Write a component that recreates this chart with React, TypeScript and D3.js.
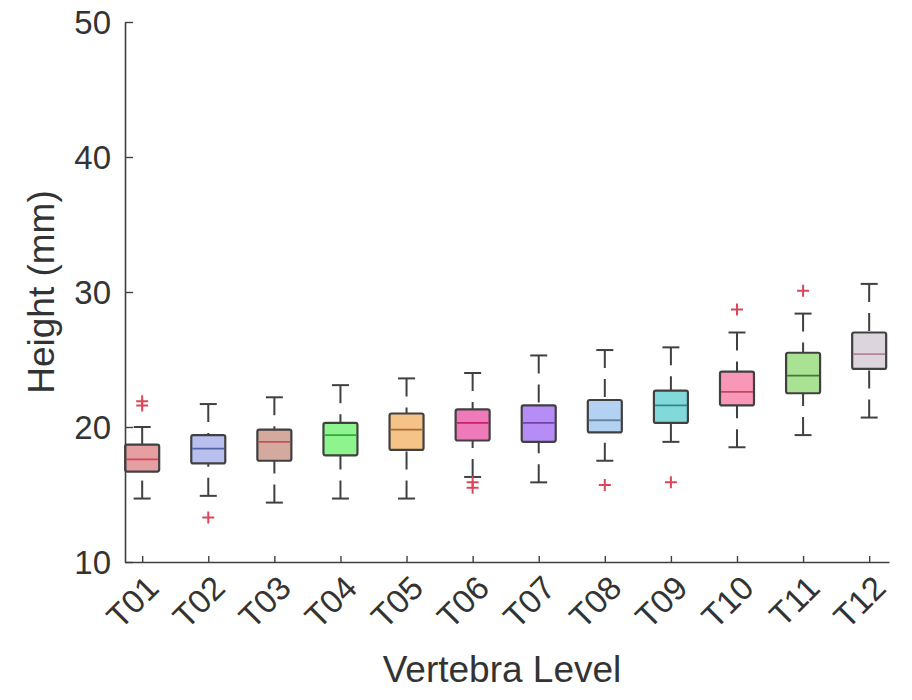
import { useEffect, useRef } from "react";
import * as d3 from "d3";

const WIDTH = 912;
const HEIGHT = 700;

const LEVELS = ["T01", "T02", "T03", "T04", "T05", "T06", "T07", "T08", "T09", "T10", "T11", "T12"];
const Q1 = [16.7, 17.3, 17.5, 17.9, 18.3, 19.0, 18.9, 19.6, 20.3, 21.6, 22.5, 24.3];
const MEDIAN = [17.6, 18.4, 18.9, 19.4, 19.8, 20.3, 20.3, 20.5, 21.6, 22.6, 23.8, 25.4];
const Q3 = [18.7, 19.4, 19.8, 20.3, 21.0, 21.3, 21.6, 22.0, 22.7, 24.1, 25.5, 27.0];
const WHISKER_LOW = [14.7, 14.9, 14.4, 14.7, 14.7, 16.3, 15.9, 17.5, 18.9, 18.5, 19.4, 20.7];
const WHISKER_HIGH = [20.0, 21.7, 22.2, 23.1, 23.6, 24.0, 25.3, 25.7, 25.9, 27.0, 28.4, 30.6];
const OUTLIERS = [[21.6, 21.9], [13.3], [], [], [], [15.9, 15.5], [], [15.7], [15.9], [28.7], [30.1], []];
const Y_TICKS = [10, 20, 30, 40, 50];

const FILLS = ["#e59ea2", "#b9c0f0", "#d4aa9e", "#8ef58e", "#f5c388", "#ee7ab9", "#b68cf6", "#b3d1f1", "#82d9d9", "#f897b7", "#aae293", "#ddd5dd"];
const MEDIAN_COLORS = ["#d0485a", "#5462a6", "#c25454", "#34a834", "#a86a36", "#c42466", "#7444a6", "#6484a6", "#328686", "#c44466", "#447636", "#b48494"];

const FONT = "'Liberation Sans', Arial, Helvetica, sans-serif";
const INK = "#333333";
const AXIS = "#404040";
const BOX_W = 34;
const CAP_W = 17;

export default function App() {
  const axesRef = useRef<SVGGElement>(null);

  const xScale = d3.scaleLinear().domain([0.74, 12.3]).range([125, 889]);
  const yScale = d3.scaleLinear().domain([10, 50]).range([562, 22]);

  // axes drawn with d3
  useEffect(() => {
    const g = d3.select(axesRef.current);
    g.selectAll("*").remove();

    const yAxis = d3.axisLeft(yScale).tickValues(Y_TICKS).tickSizeInner(-8).tickSizeOuter(0).tickPadding(14);
    const yG = g.append("g").attr("transform", `translate(${xScale.range()[0]},0)`).call(yAxis);
    yG.select(".domain").attr("stroke", AXIS).attr("stroke-width", 1.6);
    yG.selectAll(".tick line").attr("stroke", AXIS).attr("stroke-width", 1.4);
    yG.selectAll(".tick text")
      .attr("fill", INK)
      .attr("font-size", 33)
      .attr("font-family", FONT)
      .attr("dy", "0.36em");

    const xAxis = d3
      .axisBottom(xScale)
      .tickValues(d3.range(1, LEVELS.length + 1))
      .tickFormat((d) => LEVELS[(d as number) - 1])
      .tickSizeInner(-6)
      .tickSizeOuter(0);
    const xG = g.append("g").attr("transform", `translate(0,${yScale.range()[0]})`).call(xAxis);
    xG.select(".domain").attr("stroke", AXIS).attr("stroke-width", 1.6);
    xG.selectAll(".tick line").attr("stroke", AXIS).attr("stroke-width", 1.4);
    xG.selectAll(".tick text")
      .attr("fill", INK)
      .attr("font-size", 33)
      .attr("font-family", FONT)
      .attr("text-anchor", "end")
      .attr("dominant-baseline", "central")
      .attr("y", 0)
      .attr("dy", 0)
      .attr("transform", "translate(10,20) rotate(-45)");
  }, []);

  const boxes = LEVELS.map((lvl, i) => {
    const cx = xScale(i + 1);
    const top = yScale(Q3[i]);
    const bottom = yScale(Q1[i]);
    const hi = yScale(WHISKER_HIGH[i]);
    const lo = yScale(WHISKER_LOW[i]);
    return (
      <g key={lvl}>
        {/* whiskers, dashed from the cap toward the box */}
        <line x1={cx} x2={cx} y1={hi} y2={top} stroke={AXIS} strokeWidth={2} strokeDasharray="18 11" />
        <line x1={cx} x2={cx} y1={lo} y2={bottom} stroke={AXIS} strokeWidth={2} strokeDasharray="18 11" />
        <line x1={cx - CAP_W / 2} x2={cx + CAP_W / 2} y1={hi} y2={hi} stroke={AXIS} strokeWidth={2} />
        <line x1={cx - CAP_W / 2} x2={cx + CAP_W / 2} y1={lo} y2={lo} stroke={AXIS} strokeWidth={2} />
        <rect
          x={cx - BOX_W / 2}
          y={top}
          width={BOX_W}
          height={bottom - top}
          rx={2}
          fill={FILLS[i]}
          stroke={AXIS}
          strokeWidth={2.2}
        />
        <line
          x1={cx - BOX_W / 2 + 1}
          x2={cx + BOX_W / 2 - 1}
          y1={yScale(MEDIAN[i])}
          y2={yScale(MEDIAN[i])}
          stroke={MEDIAN_COLORS[i]}
          strokeWidth={1.8}
        />
        {OUTLIERS[i].map((v, j) => (
          <path
            key={j}
            d={`M${cx - 6},${yScale(v)}H${cx + 6}M${cx},${yScale(v) - 6}V${yScale(v) + 6}`}
            stroke="#d9485a"
            strokeWidth={2}
            fill="none"
          />
        ))}
      </g>
    );
  });

  return (
    <svg
      width={WIDTH}
      height={HEIGHT}
      style={{ position: "absolute", left: 0, top: 0, background: "#ffffff" }}
    >
      <g>{boxes}</g>
      <g ref={axesRef} />
      <text
        transform={`translate(54,${(yScale.range()[0] + yScale.range()[1]) / 2}) rotate(-90)`}
        textAnchor="middle"
        fontSize={37}
        fontFamily={FONT}
        fill={INK}
      >
        Height (mm)
      </text>
      <text x={502} y={682} textAnchor="middle" fontSize={37} fontFamily={FONT} fill={INK}>
        Vertebra Level
      </text>
    </svg>
  );
}
